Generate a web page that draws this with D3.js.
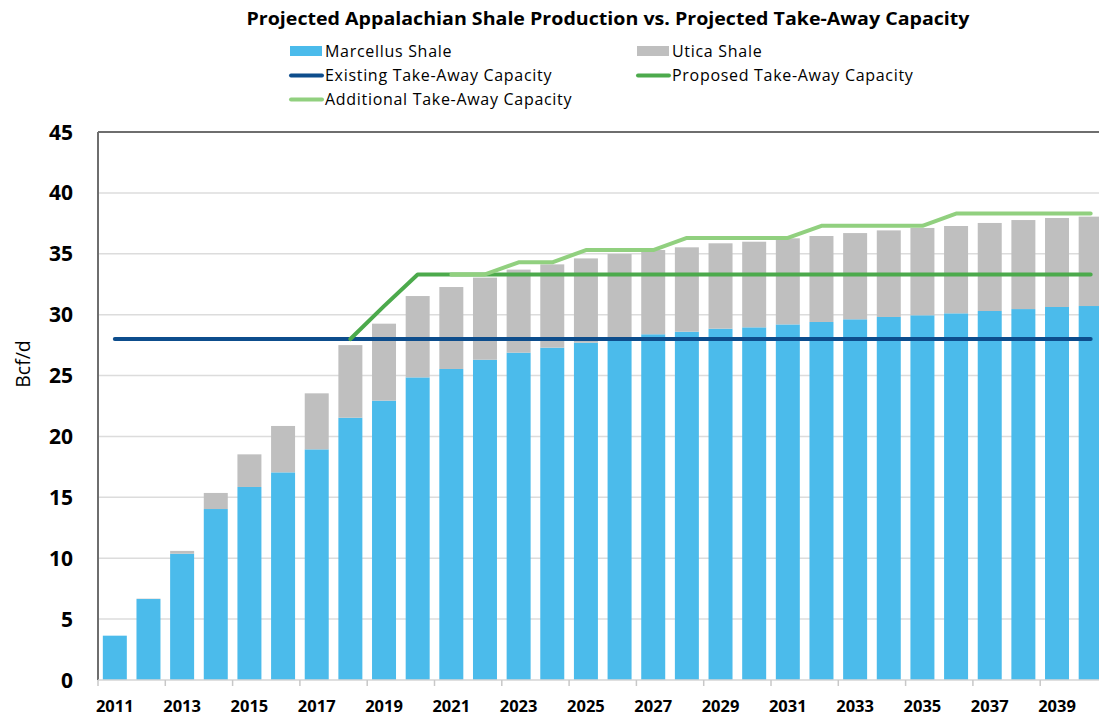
<!DOCTYPE html>
<html>
<head>
<meta charset="utf-8">
<script src="https://cdn.jsdelivr.net/npm/d3@7"></script>
<style>
  body { margin: 0; background: #fff; }
  text { font-family: "Open Sans", "Liberation Sans", sans-serif; fill: #000; }
</style>
</head>
<body>
<div id="chart"></div>
<script>
const years = ["2011","2012","2013","2014","2015","2016","2017","2018","2019","2020",
  "2021","2022","2023","2024","2025","2026","2027","2028","2029","2030",
  "2031","2032","2033","2034","2035","2036","2037","2038","2039","2040"];

const marcellus = [3.64, 6.65, 10.37, 14.04, 15.85, 17.05, 18.94, 21.54, 22.94, 24.85,
  25.54, 26.3, 26.88, 27.29, 27.7, 28.1, 28.39, 28.6, 28.85, 28.96,
  29.2, 29.4, 29.62, 29.81, 29.95, 30.11, 30.3, 30.46, 30.63, 30.71];

const utica = [0, 0.03, 0.23, 1.32, 2.68, 3.81, 4.6, 5.96, 6.32, 6.68,
  6.73, 6.74, 6.82, 6.84, 6.92, 6.88, 6.92, 6.93, 7.01, 7.03,
  7.07, 7.06, 7.08, 7.11, 7.17, 7.17, 7.23, 7.31, 7.31, 7.34];

const existing = [28, 28, 28, 28, 28, 28, 28, 28, 28, 28,
  28, 28, 28, 28, 28, 28, 28, 28, 28, 28,
  28, 28, 28, 28, 28, 28, 28, 28, 28, 28];

const proposed = [null, null, null, null, null, null, null, 28, 30.7, 33.3,
  33.3, 33.3, 33.3, 33.3, 33.3, 33.3, 33.3, 33.3, 33.3, 33.3,
  33.3, 33.3, 33.3, 33.3, 33.3, 33.3, 33.3, 33.3, 33.3, 33.3];

const additional = [null, null, null, null, null, null, null, null, null, null,
  33.3, 33.3, 34.3, 34.3, 35.3, 35.3, 35.3, 36.3, 36.3, 36.3,
  36.3, 37.3, 37.3, 37.3, 37.3, 38.3, 38.3, 38.3, 38.3, 38.3];

const yTicks = [0, 5, 10, 15, 20, 25, 30, 35, 40, 45];
const xLabels = years.filter((d, i) => i % 2 === 0);

const W = 1099, H = 717;
const margin = {top: 132, left: 98, bottom: 680, right: 1107.5};

const svg = d3.select("#chart").append("svg")
  .attr("width", W)
  .attr("height", H);

const x = d3.scaleBand()
  .domain(years)
  .range([margin.left, margin.right])
  .paddingInner(0.287)
  .paddingOuter(0.1435);

const y = d3.scaleLinear()
  .domain([0, 45])
  .range([margin.bottom, margin.top]);

// gridlines
svg.append("g")
  .selectAll("line")
  .data(yTicks.filter(d => d > 0 && d < 45))
  .join("line")
    .attr("x1", margin.left)
    .attr("x2", W)
    .attr("y1", d => y(d))
    .attr("y2", d => y(d))
    .attr("stroke", "#dcdcdc")
    .attr("stroke-width", 1.5);

// stacked bars
const rows = years.map((yr, i) => ({year: yr, marcellus: marcellus[i], utica: utica[i]}));
const stack = d3.stack().keys(["marcellus", "utica"])(rows);
const colors = {marcellus: "#4bbbeb", utica: "#bfbfbf"};

svg.append("g")
  .selectAll("g")
  .data(stack)
  .join("g")
    .attr("fill", d => colors[d.key])
  .selectAll("rect")
  .data(d => d)
  .join("rect")
    .attr("x", d => x(d.data.year))
    .attr("width", x.bandwidth())
    .attr("y", d => y(d[1]))
    .attr("height", d => y(d[0]) - y(d[1]));

// frame: top border + left spine
svg.append("line")
  .attr("x1", margin.left).attr("x2", W)
  .attr("y1", y(45)).attr("y2", y(45))
  .attr("stroke", "#6e6e6e").attr("stroke-width", 2);

svg.append("line")
  .attr("x1", margin.left).attr("x2", margin.left)
  .attr("y1", y(45)).attr("y2", y(0))
  .attr("stroke", "#6e6e6e").attr("stroke-width", 2);

// bottom axis line
svg.append("line")
  .attr("x1", margin.left).attr("x2", W)
  .attr("y1", y(0)).attr("y2", y(0))
  .attr("stroke", "#d4d4d4").attr("stroke-width", 1.5);

// capacity lines
const lineSeries = [
  {values: existing, color: "#0d4d8c"},
  {values: proposed, color: "#4caa4c"},
  {values: additional, color: "#91d07f"}
];

const line = d3.line()
  .defined(d => d.v != null)
  .x(d => x(d.year) + x.bandwidth() / 2)
  .y(d => y(d.v));

lineSeries.forEach(s => {
  svg.append("path")
    .datum(years.map((yr, i) => ({year: yr, v: s.values[i]})))
    .attr("fill", "none")
    .attr("stroke", s.color)
    .attr("stroke-width", 4)
    .attr("stroke-linecap", "round")
    .attr("stroke-linejoin", "round")
    .attr("d", line);
});

// x axis: labels on odd years, ticks on category boundaries
const half = x.step() * x.paddingInner() / 2;
svg.append("g")
  .selectAll("line")
  .data(xLabels)
  .join("line")
    .attr("x1", d => x(d) - half)
    .attr("x2", d => x(d) - half)
    .attr("y1", y(0))
    .attr("y2", y(0) + 6)
    .attr("stroke", "#c8c8c8")
    .attr("stroke-width", 1.5);

svg.append("g")
  .selectAll("text")
  .data(xLabels)
  .join("text")
    .attr("x", d => x(d) + x.bandwidth() / 2)
    .attr("y", 712)
    .attr("text-anchor", "middle")
    .attr("font-size", 16.5)
    .attr("font-weight", "bold")
    .text(d => d);

// y axis labels
svg.append("g")
  .selectAll("text")
  .data(yTicks)
  .join("text")
    .attr("x", 73)
    .attr("y", d => y(d))
    .attr("dy", "0.36em")
    .attr("text-anchor", "end")
    .attr("font-size", 21)
    .attr("font-weight", "bold")
    .text(d => d);

svg.append("text")
  .attr("transform", "translate(30,364) rotate(-90)")
  .attr("text-anchor", "middle")
  .attr("font-size", 19.5)
  .text("Bcf/d");

// title
svg.append("text")
  .attr("x", 608)
  .attr("y", 25)
  .attr("text-anchor", "middle")
  .attr("font-size", 18)
  .attr("font-weight", "bold")
  .attr("textLength", 723)
  .attr("lengthAdjust", "spacingAndGlyphs")
  .text("Projected Appalachian Shale Production vs. Projected Take-Away Capacity");

// legend
const legendItems = [
  {label: "Marcellus Shale", type: "rect", color: colors.marcellus, col: 0, row: 0},
  {label: "Utica Shale", type: "rect", color: colors.utica, col: 1, row: 0},
  {label: "Existing Take-Away Capacity", type: "line", color: "#0d4d8c", col: 0, row: 1},
  {label: "Proposed Take-Away Capacity", type: "line", color: "#4caa4c", col: 1, row: 1},
  {label: "Additional Take-Away Capacity", type: "line", color: "#91d07f", col: 0, row: 2}
];
const colX = [290, 637];
const rowY = [51, 75.5, 99.5];

const lg = svg.append("g")
  .selectAll("g")
  .data(legendItems)
  .join("g")
    .attr("transform", d => `translate(${colX[d.col]},${rowY[d.row]})`);

lg.filter(d => d.type === "rect").append("rect")
  .attr("x", 0).attr("y", -5).attr("width", 32).attr("height", 10)
  .attr("fill", d => d.color);

lg.filter(d => d.type === "line").append("line")
  .attr("x1", 1).attr("x2", 32).attr("y1", 0).attr("y2", 0)
  .attr("stroke", d => d.color).attr("stroke-width", 4)
  .attr("stroke-linecap", "round");

lg.append("text")
  .attr("x", 35)
  .attr("dy", "0.35em")
  .attr("font-size", 16)
  .attr("letter-spacing", 0.7)
  .text(d => d.label);
</script>
</body>
</html>
